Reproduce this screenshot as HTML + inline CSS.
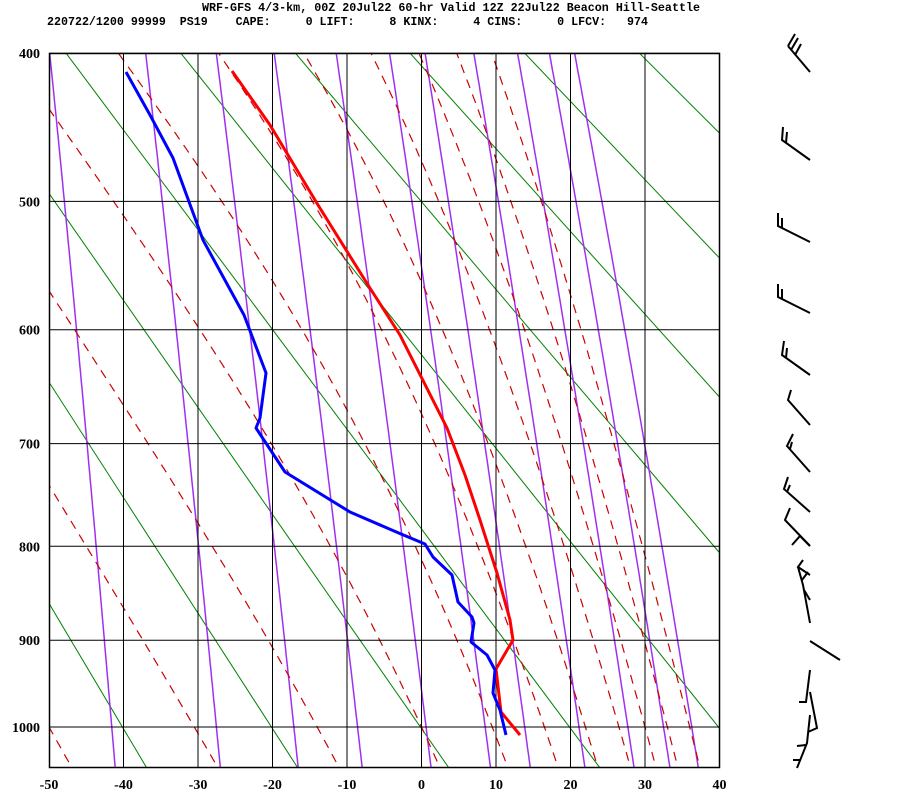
<!DOCTYPE html>
<html><head><meta charset="utf-8"><style>
html,body{margin:0;padding:0;background:#fff;}
svg{display:block;}
text{font-family:"Liberation Mono",monospace;font-weight:bold;font-size:11.5px;fill:#000;}
text.ax{font-family:"Liberation Serif",serif;font-size:14px;}
</style></head><body>
<svg id="s" width="900" height="800" xmlns="http://www.w3.org/2000/svg">
<defs><clipPath id="c"><rect x="49" y="53" width="671" height="715"/></clipPath></defs>
<rect width="900" height="800" fill="#fff"/>
<text x="202" y="11" textLength="498" lengthAdjust="spacingAndGlyphs">WRF-GFS 4/3-km, 00Z 20Jul22 60-hr Valid 12Z 22Jul22 Beacon Hill-Seattle</text>
<text x="47" y="25" xml:space="preserve" textLength="601" lengthAdjust="spacingAndGlyphs">220722/1200 99999  PS19    CAPE:     0 LIFT:     8 KINX:     4 CINS:     0 LFCV:   974</text>
<g id="bg" clip-path="url(#c)"></g>
<g id="grid"></g>
<g id="data" clip-path="url(#c)">
<polyline fill="none" stroke="#ff0000" stroke-width="3" stroke-linejoin="round" points="232,71 270,125 318,205 368,285 400,335 447,428 465,475 480,520 488,545 497,573 510,620 513,640 496,669 501,712 520,735"/>
<polyline fill="none" stroke="#0000ff" stroke-width="3" stroke-linejoin="round" points="126,72 150,115 173,158 203,240 244,315 266,373 260,418 256,428 285,472 350,512 401,534 425,544 433,557 452,575 458,602 472,617 474,623 471,642 487,655 495,670 493,693 500,710 506,735"/>
</g>
<g fill="none" stroke="#000" stroke-width="2">
<polyline points="810,72 788,46"/><polyline points="788,46 795,34"/><polyline points="791,50 798,38"/><polyline points="795,55 801,44"/>
<polyline points="810,160 782,140 783,127"/><polyline points="786,143 787,132"/>
<polyline points="810,242 778,226 778,213"/><polyline points="782,228 782,218"/>
<polyline points="810,313 778,297 778,284"/><polyline points="782,299 782,289"/>
<polyline points="810,375 782,355 784,341"/><polyline points="786,358 787,348"/>
<polyline points="810,425 788,400 791,390"/>
<polyline points="810,472 787,446 793,434"/><polyline points="790,449 792,442"/>
<polyline points="810,512 784,489 788,477"/><polyline points="787,492 790,485"/>
<polyline points="810,546 785,520 790,508"/>
<polyline points="810,546 800,536 792,545"/>
<polyline points="810,575 798,567 803,560"/><polyline points="798,567 803,585 810,623"/><polyline points="804,590 810,600"/><polyline points="802,580 808,572"/>
<polyline points="810,641 840,660"/>
<polyline points="810,670 806,702 799,702"/>
<polyline points="810,692 817,728 808,732"/><polyline points="810,715 807,743 797,768"/><polyline points="797,746 806,745"/><polyline points="793,760 800,760"/>
</g>
</svg>
<script>
(function(){
var NS="http://www.w3.org/2000/svg",K=0.286,P0K=Math.pow(1000,K);
function Y(p){return 727-405.3*(P0K-Math.pow(p,K));}
function X(t){return 49+(t+50)*7.45;}
var bg=document.getElementById('bg'),gr=document.getElementById('grid');
function line(g,pts,col,w,dash){var e=document.createElementNS(NS,'polyline');e.setAttribute('points',pts.map(function(a){return a[0].toFixed(1)+','+a[1].toFixed(1);}).join(' '));e.setAttribute('fill','none');e.setAttribute('stroke',col);e.setAttribute('stroke-width',w);if(dash)e.setAttribute('stroke-dasharray',dash);g.appendChild(e);}
function txt(x,y,s,anc){var e=document.createElementNS(NS,'text');e.setAttribute('x',x);e.setAttribute('y',y);e.setAttribute('text-anchor',anc);e.setAttribute('class','ax');e.textContent=s;gr.appendChild(e);}
var ps=[];for(var p=390;p<=1060;p+=5)ps.push(p);
for(var th=173;th<=453;th+=20){line(bg,[[X(th*Math.pow(390/1000,K)-273.15),Y(390)],[X(th*Math.pow(1060/1000,K)-273.15),Y(1060)]],'#008000',1);}
[0.1,0.4,1,2,4,7,10,16,24,32,40].forEach(function(w){var pts=ps.map(function(p){var e=w*p/(622+w),l=Math.log(e/6.112);var t=243.5*l/(17.67-l);return [X(t),Y(p)];});line(bg,pts,'#a030f0',1.5);});
function es(t){return 6.112*Math.exp(17.67*t/(t+243.5));}
function dTdp(p,T){var tc=T-273.15,e=es(tc),rs=0.622*e/(p-e),Rd=287,Lv=2.5e6,cp=1004;return (Rd*T+Lv*rs)/(p*(cp+Lv*Lv*rs*0.622/(Rd*T*T)));}
[-50,-30.5,-14,0,9.5,16.5,22,26.5,30,33,36].forEach(function(t0){
 var up=[],T=t0+273.15,p=1000;up.push([X(t0),Y(1000)]);
 while(p>390){var h=-2;var k1=dTdp(p,T),k2=dTdp(p+h,T+h*k1);T+=h*(k1+k2)/2;p+=h;up.push([X(T-273.15),Y(p)]);}
 var dn=[];T=t0+273.15;p=1000;while(p<1060){var h=2;var k1=dTdp(p,T),k2=dTdp(p+h,T+h*k1);T+=h*(k1+k2)/2;p+=h;dn.push([X(T-273.15),Y(p)]);}
 var pts=dn.reverse().concat(up);line(bg,pts,'#cc0000',1.2,'9,7');
});
for(var t=-40;t<=30;t+=10)line(gr,[[X(t),53],[X(t),768]],'#000',1);
[400,500,600,700,800,900,1000].forEach(function(p){line(gr,[[49,Y(p)],[720,Y(p)]],'#000',1);txt(40,Y(p)+5,String(p),'end');});
var r=document.createElementNS(NS,'rect');r.setAttribute('x',49.5);r.setAttribute('y',53.5);r.setAttribute('width',670);r.setAttribute('height',714);r.setAttribute('fill','none');r.setAttribute('stroke','#000');r.setAttribute('stroke-width',1.5);gr.appendChild(r);
for(var t=-50;t<=40;t+=10)txt(X(t),789,String(t),'middle');
})();
</script>
</body></html>
